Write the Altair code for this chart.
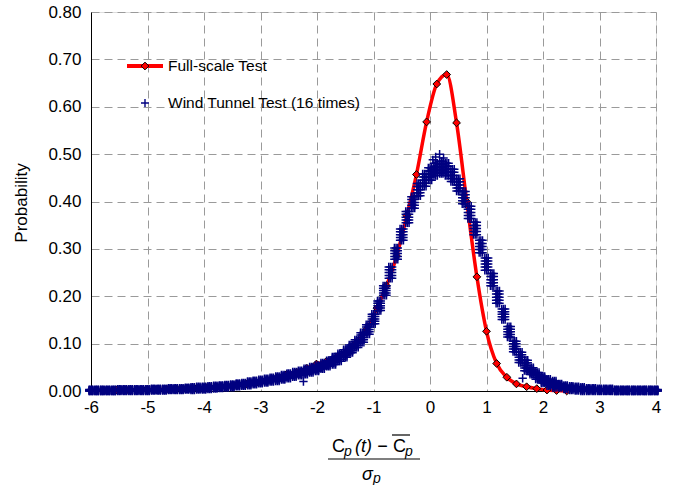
import altair as alt
import pandas as pd

# ---------------- data ----------------
# Full-scale test (red line with diamond markers)
fs_x = [-5.90, -5.72, -5.55, -5.37, -5.19, -5.02, -4.84, -4.66, -4.48, -4.31,
        -4.13, -3.95, -3.78, -3.60, -3.42, -3.25, -3.07, -2.89, -2.71, -2.54,
        -2.36, -2.18, -2.01, -1.83, -1.65, -1.48, -1.30, -1.12, -0.94, -0.77,
        -0.59, -0.41, -0.24, -0.06, 0.12, 0.295, 0.47, 0.65, 0.83, 1.00,
        1.18, 1.36, 1.53, 1.71, 1.89, 2.07, 2.24, 2.42]
fs_y = [0.001, 0.001, 0.002, 0.002, 0.002, 0.003, 0.003, 0.004, 0.004, 0.005,
        0.006, 0.007, 0.008, 0.010, 0.012, 0.015, 0.018, 0.022, 0.028, 0.035,
        0.040, 0.048, 0.057, 0.063, 0.071, 0.081, 0.103, 0.130, 0.175, 0.222,
        0.285, 0.370, 0.457, 0.568, 0.648, 0.668, 0.566, 0.400, 0.241, 0.126,
        0.058, 0.029, 0.015, 0.009, 0.005, 0.002, 0.001, 0.000]

# Wind tunnel test: band centre read every 0.1 from -6.0 to 4.0
wt_x = [round(-6.0 + 0.1 * i, 1) for i in range(101)]
wt_y = [0.001, 0.001, 0.001, 0.001, 0.001, 0.002, 0.002, 0.002, 0.002, 0.002, 0.002,
        0.003, 0.003, 0.003, 0.004, 0.004, 0.004, 0.005, 0.005, 0.006, 0.006,
        0.007, 0.008, 0.009, 0.010, 0.011, 0.013, 0.014, 0.016, 0.018, 0.020,
        0.022, 0.024, 0.026, 0.029, 0.032, 0.035, 0.038, 0.041, 0.045, 0.048,
        0.053, 0.058, 0.064, 0.071, 0.079, 0.089, 0.100, 0.113, 0.130, 0.152,
        0.180, 0.212, 0.250, 0.290, 0.330, 0.367, 0.398, 0.425, 0.445, 0.458,
        0.468, 0.472, 0.468, 0.455, 0.435, 0.408, 0.377, 0.343, 0.305, 0.268,
        0.235, 0.198, 0.162, 0.125, 0.094, 0.071, 0.054, 0.042, 0.032, 0.024,
        0.018, 0.014, 0.011, 0.008, 0.006, 0.005, 0.004, 0.003, 0.003, 0.002,
        0.002, 0.002, 0.001, 0.001, 0.001, 0.001, 0.001, 0.001, 0.001, 0.001]
# run-to-run scatter (half width) read every 0.5 from -6 to 4
wt_spread = [0.002, 0.002, 0.002, 0.002, 0.003, 0.003, 0.004, 0.005, 0.006, 0.008,
             0.010, 0.012, 0.013, 0.013, 0.013, 0.011, 0.007, 0.004, 0.003, 0.002, 0.002]
# horizontal scatter between runs
wt_dx = [-0.03, 0.0, 0.03]
wt_out_x = [-2.24, 1.64, 0.17, 0.10, 0.24, 0.05]
wt_out_y = [0.020, 0.027, 0.500, 0.494, 0.492, 0.488]

x_ticks = [-6, -5, -4, -3, -2, -1, 0, 1, 2, 3, 4]
y_ticks = [0.0, 0.1, 0.2, 0.3, 0.4, 0.5, 0.6, 0.7, 0.8]

# ---------------- tables ----------------
fs_df = pd.DataFrame({"x": fs_x, "y": fs_y})
rows = []
for i, (x, y) in enumerate(zip(wt_x, wt_y)):
    s = wt_spread[round(i / 5)]
    for dx in wt_dx:
        for d in (-s, -s / 2, 0.0, s / 2, s):
            rows.append({"x": x + dx, "y": max(y + d, 0.0)})
for x, y in zip(wt_out_x, wt_out_y):
    rows.append({"x": x, "y": y})
wt_df = pd.DataFrame(rows)

FONT = "Liberation Sans"
W, H = 565, 379

xs = alt.Scale(domain=[-6, 4], nice=False)
ys = alt.Scale(domain=[0, 0.8], nice=False)

x_enc = alt.X("x:Q", scale=xs, axis=alt.Axis(values=x_ticks, title=None,
                                             labelExpr="'' + datum.value",
                                             ticks=False, labelPadding=8, labelFontSize=17,
                                             labelFont=FONT, labelColor="black",
                                             domainColor="black", gridColor="#9a9a9a",
                                             gridDash=[8, 5], labelFlush=False))
y_enc = alt.Y("y:Q", scale=ys, axis=alt.Axis(values=y_ticks, format=".2f", title=None,
                                             ticks=False, labelPadding=10, labelFontSize=17,
                                             labelFont=FONT, labelColor="black",
                                             domainColor="black", gridColor="#9a9a9a",
                                             gridDash=[8, 5]))

red_line = alt.Chart(fs_df).mark_line(color="#ff0000", strokeWidth=3.5,
                                       interpolate="monotone").encode(x=x_enc, y=y_enc)
red_pts = alt.Chart(fs_df).mark_point(shape="diamond", filled=True, fill="#ff0000",
                                       stroke="black", strokeWidth=1, size=60,
                                       opacity=1).encode(x="x:Q", y="y:Q")
CROSS = "M-1,0H1M0,-1V1"
blue = alt.Chart(wt_df).mark_point(shape=CROSS, filled=False, stroke="#000080",
                                    strokeWidth=1.5, size=70, opacity=1
                                    ).encode(x="x:Q", y="y:Q")

one = alt.Data(values=[{"a": 1}])


def txt(s, x, y, size=17, style="normal", align="left", baseline="alphabetic", angle=0):
    kw = dict(font=FONT, fontSize=size, fontStyle=style, align=align,
              baseline=baseline, color="black")
    if angle:
        kw["angle"] = angle
    return alt.Chart(one).mark_text(**kw).encode(x=alt.value(x), y=alt.value(y),
                                                  text=alt.value(s))


def rule(x1, x2, y, color="black", width=1.0):
    return alt.Chart(one).mark_rule(color=color, strokeWidth=width).encode(
        x=alt.value(x1), x2=alt.value(x2), y=alt.value(y))


# legend
leg_line = rule(36, 72, 54, color="#ff0000", width=4)
leg_dia = alt.Chart(one).mark_point(shape="diamond", filled=True, fill="#ff0000",
                                     stroke="black", strokeWidth=1, size=60, opacity=1
                                     ).encode(x=alt.value(54), y=alt.value(54))
leg_t1 = txt("Full-scale Test", 77, 54, size=15.5, baseline="middle")
leg_cross = alt.Chart(one).mark_point(shape=CROSS, filled=False, stroke="#000080",
                                       strokeWidth=1.4, size=64, opacity=1
                                       ).encode(x=alt.value(54), y=alt.value(91))
leg_t2 = txt("Wind Tunnel Test (16 times)", 77, 91, size=15.5, baseline="middle")

# axis titles
ytitle = txt("Probability", -69, 191, size=17, align="center", baseline="middle", angle=270)
xt = [
    txt("C", 241, 440, size=18),
    txt("p", 253, 444, size=14, style="italic"),
    txt("(t) \u2212", 264, 440, size=18, style="italic"),
    txt("C", 302, 440, size=18),
    rule(301, 319, 423, width=1.2),
    txt("p", 314, 444, size=14, style="italic"),
    rule(237, 329, 447, width=1.2),
    txt("\u03c3", 271, 468, size=18, style="italic"),
    txt("p", 282, 471, size=14, style="italic"),
]

chart = alt.layer(red_line, red_pts, blue, leg_line, leg_dia, leg_t1, leg_cross, leg_t2,
                  ytitle, *xt).properties(
    width=W, height=H,
    autosize=alt.AutoSizeParams(type="none"),
    padding={"left": 91, "top": 12, "right": 17, "bottom": 94},
).configure_view(stroke=None).configure(background="white")

chart.save("out.html", embed_options={"renderer": "svg", "actions": False})
